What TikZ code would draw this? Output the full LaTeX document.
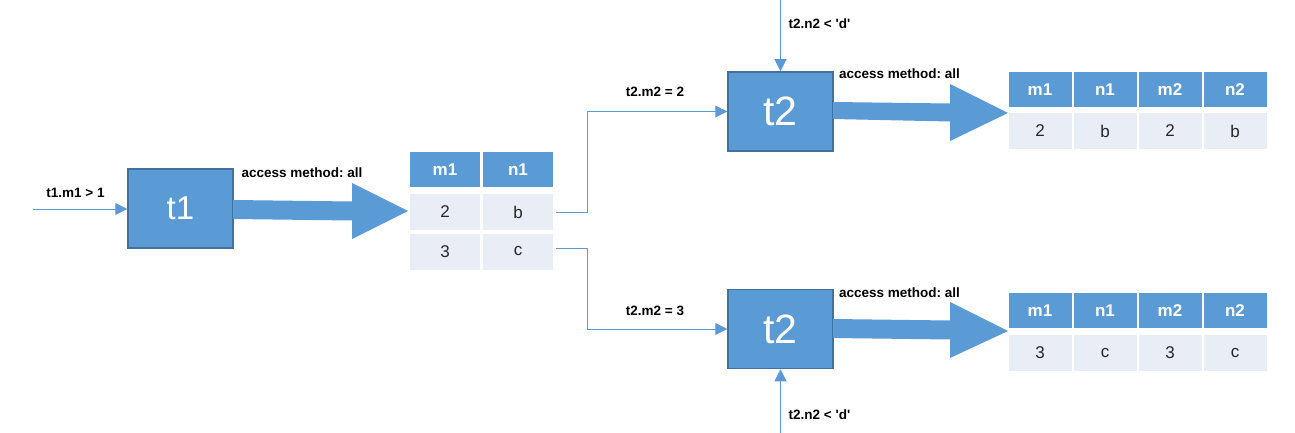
\documentclass[tikz,border=0pt]{standalone}
\usepackage{fontspec}
\setmainfont{Liberation Sans}
\usetikzlibrary{arrows.meta}
\definecolor{blu}{RGB}{91,155,213}
\definecolor{bord}{RGB}{65,113,156}
\definecolor{rowc}{RGB}{233,237,245}
\definecolor{txt}{RGB}{38,38,38}
\frenchspacing
\begin{document}
\begin{tikzpicture}[x=1pt,y=-1pt,
  box/.style={draw=bord, line width=1.5pt, fill=blu, minimum width=105pt, minimum height=79pt, inner sep=0pt, text=white},
  hdr/.style={fill=blu, text=white, font=\fontsize{17}{19}\selectfont\bfseries, inner sep=0pt, minimum height=35pt},
  cell/.style={fill=rowc, text=txt, font=\fontsize{17}{19}\selectfont, inner sep=0pt, minimum height=36pt},
  wA/.style={minimum width=70pt},
  wB/.style={minimum width=63pt},
  lbl/.style={font=\fontsize{13.5}{15}\selectfont\bfseries, inner sep=0pt},
  conn/.style={draw=blu, line width=1pt, -{Triangle[length=12pt,width=12pt]}},
  big/.style={fill=blu}]
\useasboundingbox (0,0) rectangle (1295,433);
\fill[white] (0,0) rectangle (1295,433);

% boxes
\node[box, font=\fontsize{33}{35}\selectfont] (t1) at (180.5,208.5) {t1};
\node[box, font=\fontsize{41}{43}\selectfont] (t2a) at (780.5,111.5) {t2};
\node[box, font=\fontsize{41}{43}\selectfont] (t2b) at (780.5,329) {t2};

% table 1
\node[hdr,wA] (h1a) at (445,169.5) {m1};
\node[hdr,wA] (h1b) at (518,169.5) {n1};
\node[cell,wA] (r1a) at (445,212) {2};
\node[cell,wA] (r1b) at (518,212) {b};
\node[cell,wA] (r2a) at (445,251.5) {3};
\node[cell,wA] (r2b) at (518,251.5) {c};

% table top right
\node[hdr,wB] (ta1) at (1040,89.5) {m1};
\node[hdr,wB] (ta2) at (1105,89.5) {n1};
\node[hdr,wB] (ta3) at (1170,89.5) {m2};
\node[hdr,wB] (ta4) at (1235,89.5) {n2};
\node[cell,wB] (ua1) at (1040,131) {2};
\node[cell,wB] (ua2) at (1105,131) {b};
\node[cell,wB] (ua3) at (1170,131) {2};
\node[cell,wB] (ua4) at (1235,131) {b};

% table bottom right
\node[hdr,wB] (tb1) at (1040,310.5) {m1};
\node[hdr,wB] (tb2) at (1105,310.5) {n1};
\node[hdr,wB] (tb3) at (1170,310.5) {m2};
\node[hdr,wB] (tb4) at (1235,310.5) {n2};
\node[cell,wB] (ub1) at (1040,353) {3};
\node[cell,wB] (ub2) at (1105,353) {c};
\node[cell,wB] (ub3) at (1170,353) {3};
\node[cell,wB] (ub4) at (1235,353) {c};

% big arrows
\fill[big] (233,200) -- (352,201.5) -- (352,183) -- (408,211) -- (352,239) -- (352,220.5) -- (233,219) -- cycle;
\fill[big] (833,102) -- (950,103.5) -- (950,84) -- (1008,113) -- (950,141) -- (950,121.5) -- (833,119) -- cycle;
\fill[big] (833,319) -- (950,320.5) -- (950,302) -- (1008,331) -- (950,358) -- (950,339.5) -- (833,338) -- cycle;

% thin connectors
\coordinate (in1) at (33,209);
\coordinate (topin) at (780.5,0);
\coordinate (botin) at (780.5,433);
\draw[conn] (in1) -- (t1.west |- in1);
\draw[conn] ([xshift=3pt]r1b.east) -- ++(31,0) |- (t2a.west);
\draw[conn] ([xshift=3pt]r2b.east |- 0,248) -- ++(31,0) |- (t2b.west);
\draw[conn] (topin) -- (t2a.north);
\draw[conn] (botin) -- (t2b.south);

% labels
\node[lbl] (l1) at (75.5,193) {t1.m1 > 1};
\node[lbl] (l2) at (302,173) {access method: all};
\node[lbl] (l3) at (655,92) {t2.m2 = 2};
\node[lbl] (l4) at (655,311) {t2.m2 = 3};
\node[lbl] (l5) at (819.5,24) {t2.n2 < \textquotesingle d\textquotesingle};
\node[lbl] (l6) at (819.5,415) {t2.n2 < \textquotesingle d\textquotesingle};
\node[lbl] (l7) at (899.5,74) {access method: all};
\node[lbl] (l8) at (899.5,293) {access method: all};
\end{tikzpicture}
\end{document}
